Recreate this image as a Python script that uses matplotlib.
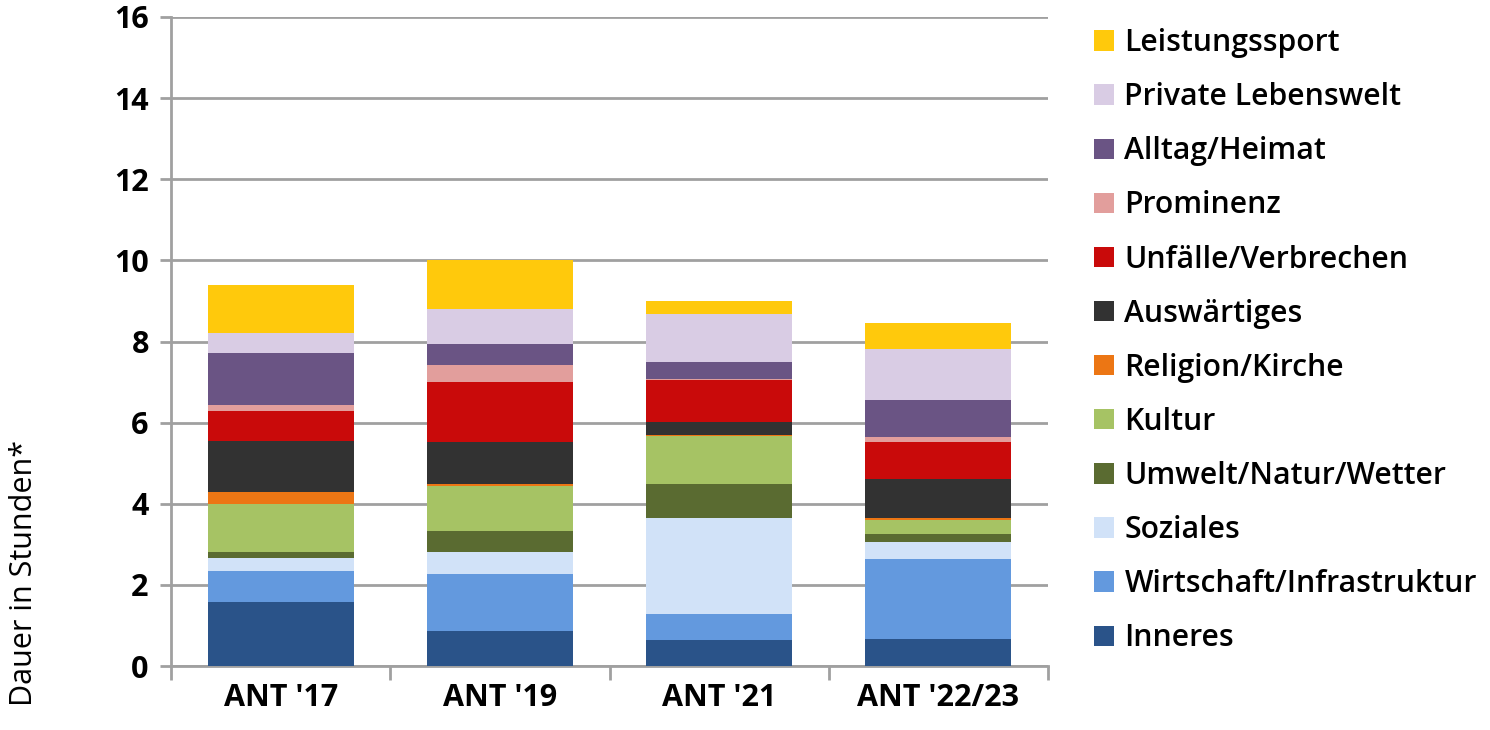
import matplotlib
matplotlib.use("Agg")
import matplotlib.pyplot as plt
import numpy as np

plt.rcParams['font.family'] = ['Open Sans', 'DejaVu Sans']

categories = ["ANT '17", "ANT '19", "ANT '21", "ANT '22/23"]
series_names = ["Inneres", "Wirtschaft/Infrastruktur", "Soziales", "Umwelt/Natur/Wetter",
                "Kultur", "Religion/Kirche", "Auswärtiges", "Unfälle/Verbrechen",
                "Prominenz", "Alltag/Heimat", "Private Lebenswelt", "Leistungssport"]
inneres        = [1.59, 0.87, 0.63, 0.67]
wirtschaft     = [0.76, 1.40, 0.65, 1.96]
soziales       = [0.31, 0.54, 2.36, 0.42]
umwelt         = [0.16, 0.52, 0.84, 0.21]
kultur         = [1.17, 1.10, 1.18, 0.35]
religion       = [0.29, 0.05, 0.04, 0.03]
auswaertiges   = [1.27, 1.05, 0.31, 0.98]
unfaelle       = [0.74, 1.48, 1.04, 0.91]
prominenz      = [0.15, 0.40, 0.03, 0.12]
alltag         = [1.27, 0.52, 0.41, 0.90]
private        = [0.50, 0.87, 1.18, 1.27]
leistungssport = [1.19, 1.22, 0.33, 0.63]
series_values = [inneres, wirtschaft, soziales, umwelt, kultur, religion, auswaertiges,
                 unfaelle, prominenz, alltag, private, leistungssport]
colors = ["#2A5389", "#6399DE", "#D1E2F8", "#5A6B31", "#A6C364", "#EC7614",
          "#323232", "#C90A0A", "#E29E9C", "#6A5484", "#D9CCE4", "#FFC90C"]
yticks = [0, 2, 4, 6, 8, 10, 12, 14, 16]

fig = plt.figure(figsize=(14.9, 7.3), dpi=100)
ax = fig.add_axes([171/1490, 1-666/730, (1048-171)/1490, (666-17)/730])

x = np.arange(len(categories))
bottom = np.zeros(len(categories))
handles = []
for name, vals, col in zip(series_names, series_values, colors):
    h = ax.bar(x, vals, width=0.667, bottom=bottom, color=col, label=name, zorder=3)
    handles.append(h)
    bottom += np.array(vals)

ax.set_xlim(-0.5, len(categories) - 0.5)
ax.set_ylim(0, 16)
ax.set_yticks(yticks)
ax.set_yticklabels([str(t) for t in yticks], fontsize=22, fontweight='bold')
ax.set_xticks(x)
ax.set_xticklabels(categories, fontsize=22, fontweight='bold')
ax.set_xticks(np.arange(-0.5, len(categories)), minor=True)
ax.tick_params(axis='x', which='major', length=0, pad=12)
ax.tick_params(axis='x', which='minor', length=10, width=2, color='#A0A0A0', direction='out')
ax.tick_params(axis='y', which='major', length=8, width=2, color='#A0A0A0', direction='out', pad=8)
ax.yaxis.grid(True, color='#A0A0A0', linewidth=2, zorder=0)
ax.set_axisbelow(True)
for s in ['top', 'right']:
    ax.spines[s].set_visible(False)
for s in ['left', 'bottom']:
    ax.spines[s].set_color('#A0A0A0')
    ax.spines[s].set_linewidth(2)

fig.text(24/1490, 1-573/730, "Dauer in Stunden*", rotation=90, fontsize=22,
         ha='center', va='center')

leg = fig.legend(handles[::-1], series_names[::-1], loc='upper left',
                 bbox_to_anchor=(1082/1490, 1-16/730), frameon=False,
                 fontsize=21.7, handlelength=0.66, handleheight=0.66, handletextpad=0.35,
                 labelspacing=0.80, borderaxespad=0)
for t in leg.get_texts():
    t.set_fontweight('semibold')

fig.savefig("out.png", dpi=100)
